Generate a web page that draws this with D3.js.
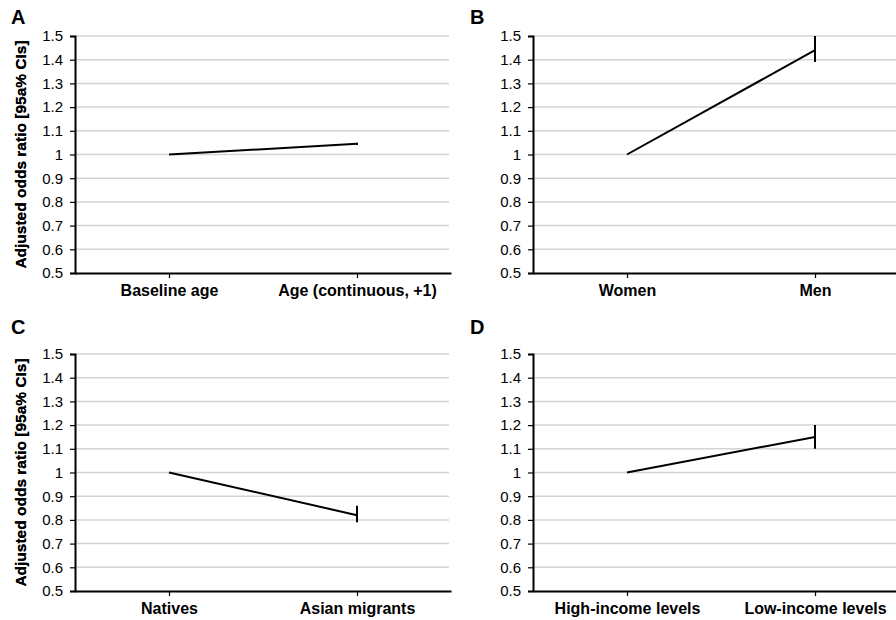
<!DOCTYPE html>
<html lang="en">
<head>
    <meta charset="UTF-8">
    <title>Adjusted odds ratios</title>
    <script src="https://d3js.org/d3.v7.min.js"></script>
    <style>
        body { margin: 0; background: #fff; }
        svg { display: block; font-family: "Liberation Sans", Arial, sans-serif; }
        .y-axis .tick text { font-size: 15px; fill: #000; }
        .x-axis .tick text { font-size: 16px; font-weight: bold; fill: #000; }
    </style>
</head>
<body>
    <svg width="896" height="620"></svg>
    <script>
        // Data
        const panelLabels = ["A", "B", "C", "D"];
        const categories = [
            ["Baseline age", "Age (continuous, +1)"],
            ["Women", "Men"],
            ["Natives", "Asian migrants"],
            ["High-income levels", "Low-income levels"]
        ];
        const oddsRatios = [[1, 1.045], [1, 1.44], [1, 0.82], [1, 1.15]];
        const ciLower = [[1, 1.04], [1, 1.39], [1, 0.79], [1, 1.10]];
        const ciUpper = [[1, 1.05], [1, 1.50], [1, 0.86], [1, 1.20]];
        const yTicks = [0.5, 0.6, 0.7, 0.8, 0.9, 1, 1.1, 1.2, 1.3, 1.4, 1.5];
        const yTitle = "Adjusted odds ratio [95a% CIs]";

        // Panel layout
        const panelOrigins = [[75, 36], [533, 36], [75, 354], [533, 354]];
        const width = 376;
        const height = 237;

        const svg = d3.select("svg");

        panelLabels.forEach((label, i) => {
            const [ox, oy] = panelOrigins[i];
            const g = svg.append("g").attr("transform", `translate(${ox},${oy})`);

            const x = d3.scalePoint().domain(categories[i]).range([0, width]).padding(0.5);
            const y = d3.scaleLinear().domain([0.5, 1.5]).range([height, 0]);

            // gridlines
            g.selectAll(".grid")
                .data(yTicks.slice(1))
                .enter().append("line")
                .attr("class", "grid")
                .attr("x1", 0).attr("x2", width - 2)
                .attr("y1", d => y(d)).attr("y2", d => y(d))
                .attr("stroke", "#d4d4d4")
                .attr("stroke-width", 1.5);

            // y axis
            const yAxis = g.append("g")
                .attr("class", "y-axis")
                .call(d3.axisLeft(y).tickValues(yTicks).tickFormat(d => String(d)).tickSize(5).tickPadding(7));
            yAxis.select(".domain").attr("stroke", "#000").attr("stroke-width", 2);
            yAxis.selectAll(".tick line").attr("stroke", "#000").attr("stroke-width", 1.2);

            // x axis
            const xAxis = g.append("g")
                .attr("class", "x-axis")
                .attr("transform", `translate(0,${height})`)
                .call(d3.axisBottom(x).tickSize(5).tickSizeOuter(0));
            xAxis.select(".domain").attr("stroke", "#000").attr("stroke-width", 2);
            xAxis.selectAll(".tick line").attr("stroke", "#000").attr("stroke-width", 1.2);
            xAxis.selectAll(".tick text").attr("y", 21).attr("dy", "0.1em");

            // y axis title
            g.append("text")
                .attr("transform", "rotate(-90)")
                .attr("x", -height / 2)
                .attr("y", -ox + 26)
                .attr("text-anchor", "middle")
                .attr("font-size", 15.5)
                .attr("font-weight", "bold")
                .text(yTitle);

            // panel letter
            svg.append("text")
                .attr("x", i % 2 === 0 ? 11 : 470)
                .attr("y", i < 2 ? 24 : 334)
                .attr("font-size", 20)
                .attr("font-weight", "bold")
                .text(label);

            // line between the two categories
            const pts = categories[i].map((c, j) => ({ cat: c, or: oddsRatios[i][j] }));
            g.append("path")
                .datum(pts)
                .attr("fill", "none")
                .attr("stroke", "#000")
                .attr("stroke-width", 2)
                .attr("d", d3.line().x(d => x(d.cat)).y(d => y(d.or)));

            // confidence intervals (vertical bars)
            g.selectAll(".ci")
                .data(categories[i].map((c, j) => ({ cat: c, lo: ciLower[i][j], hi: ciUpper[i][j] })))
                .enter().append("line")
                .attr("class", "ci")
                .attr("x1", d => x(d.cat)).attr("x2", d => x(d.cat))
                .attr("y1", d => y(d.lo)).attr("y2", d => y(d.hi))
                .attr("stroke", "#000")
                .attr("stroke-width", 2);
        });
    </script>
</body>
</html>
